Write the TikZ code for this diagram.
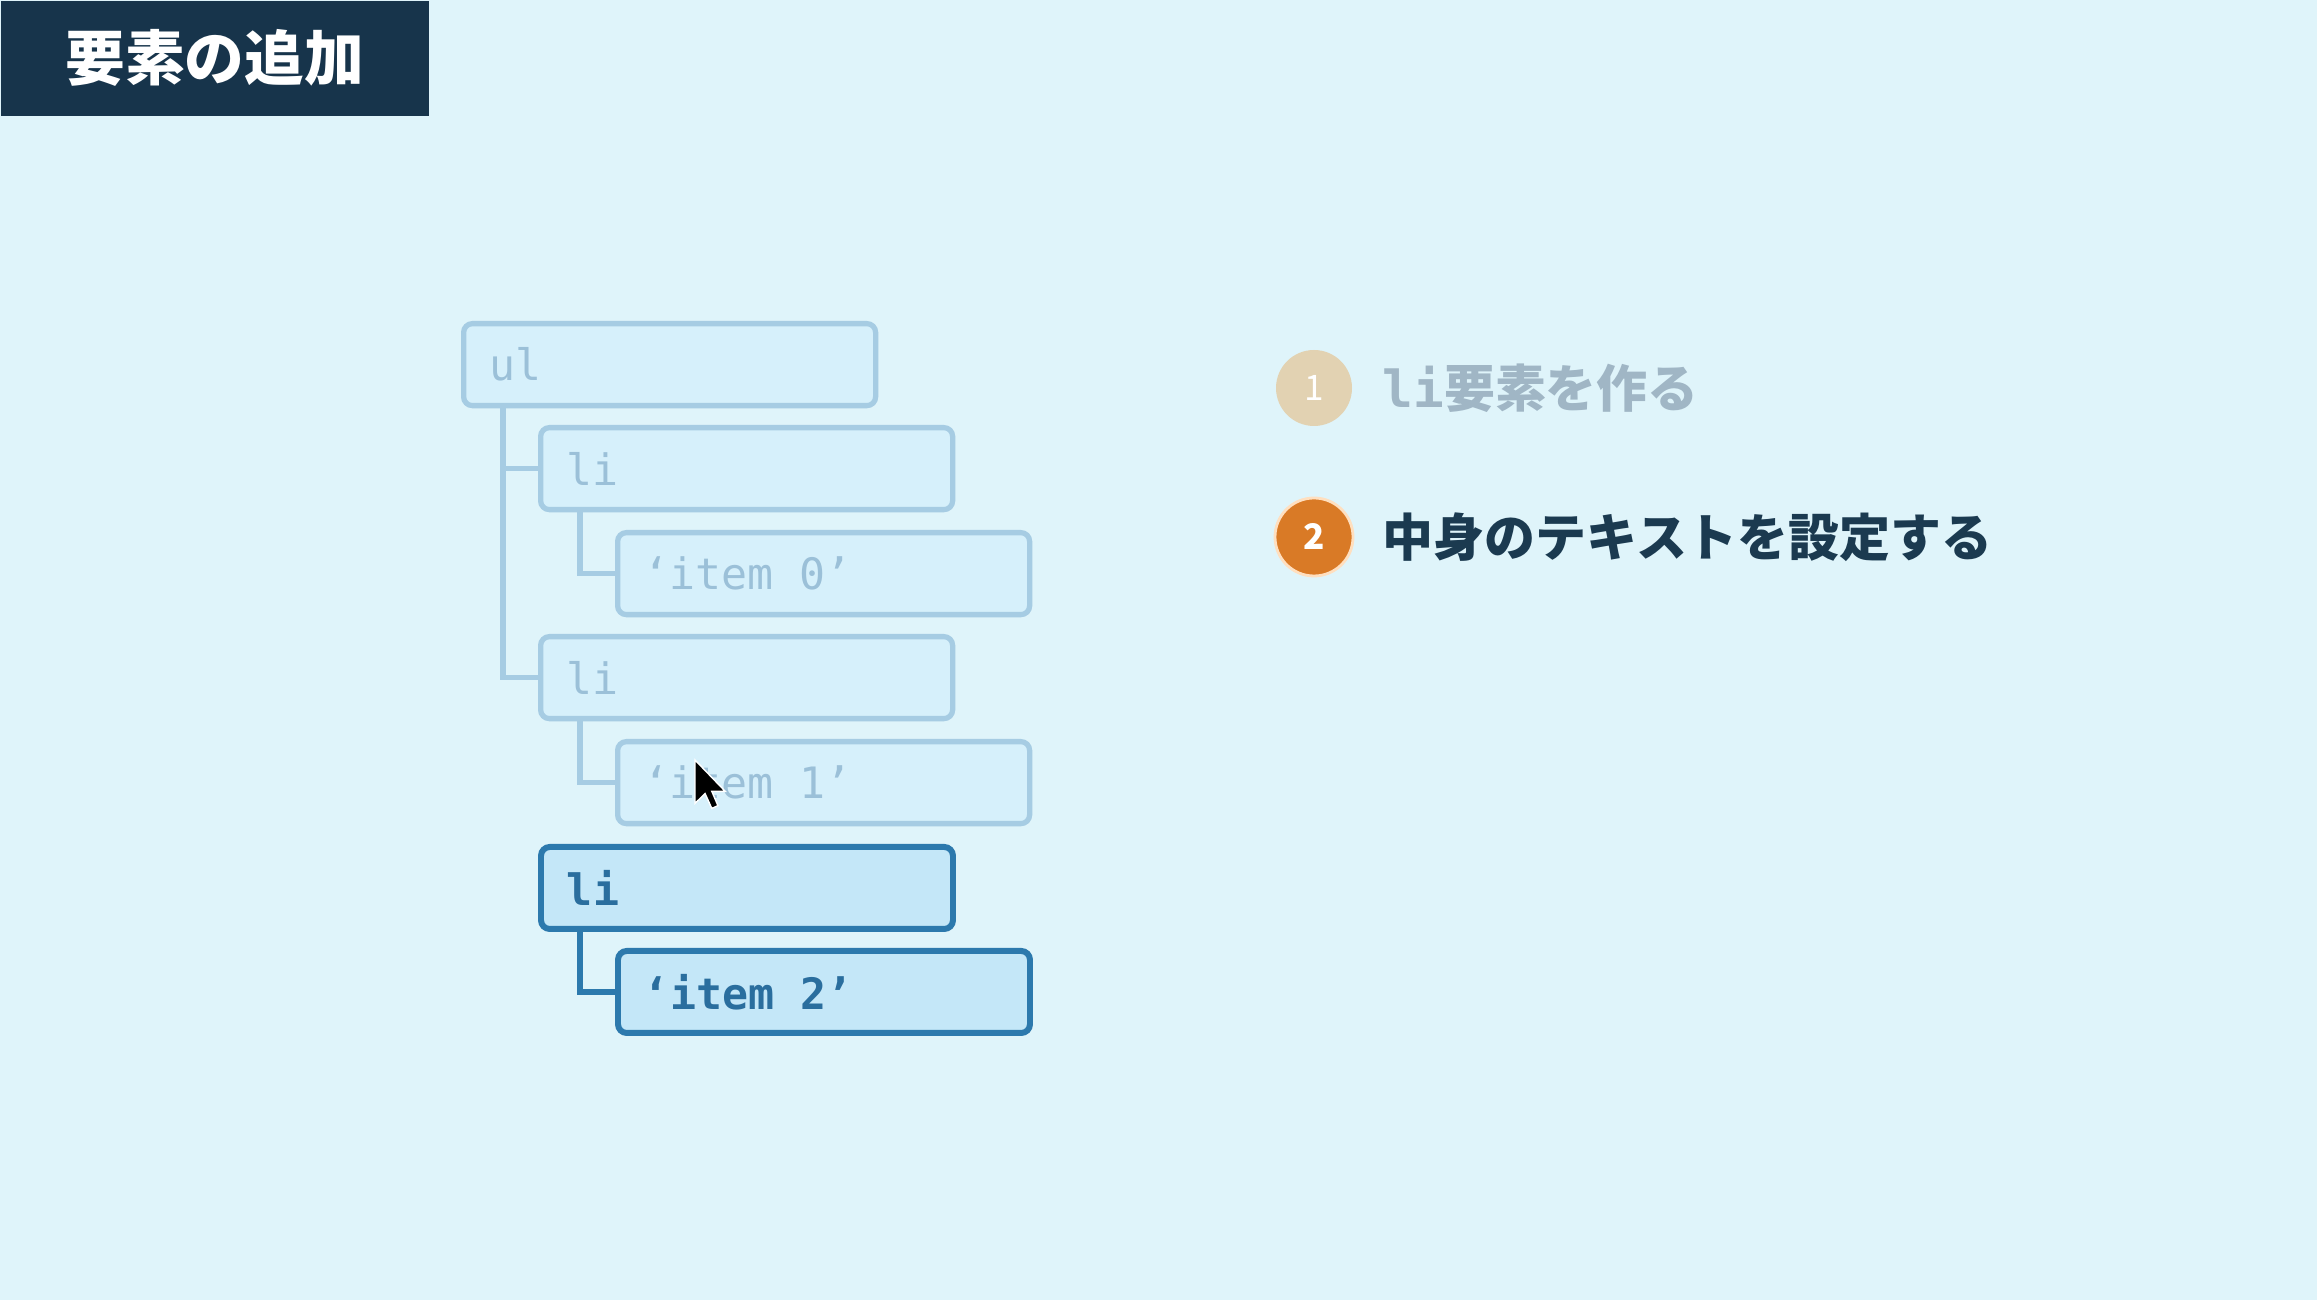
\documentclass[tikz,border=0pt]{standalone}
\usepackage{fontspec}
\setmainfont{Noto Sans CJK JP}
\setmonofont{DejaVu Sans Mono}
\usepackage{tikz}
\usetikzlibrary{calc}
\definecolor{bgcol}{RGB}{223,244,250}
\definecolor{titlebg}{RGB}{23,52,75}
\definecolor{oldfill}{RGB}{214,240,251}
\definecolor{oldline}{RGB}{166,204,227}
\definecolor{oldtext}{RGB}{155,192,216}
\definecolor{newfill}{RGB}{196,231,248}
\definecolor{newline}{RGB}{44,121,173}
\definecolor{newtext}{RGB}{42,110,158}
\definecolor{doneorange}{RGB}{226,210,178}
\definecolor{doneblue}{RGB}{160,182,197}
\definecolor{nowgold}{RGB}{217,122,38}
\definecolor{nowdark}{RGB}{27,58,80}
\tikzset{old box/.style={
  draw=oldline, fill=oldfill, text=oldtext,
  line width=1.5pt, rounded corners=2.5pt,
  anchor=north west, minimum height=0.82cm,
  text width=3.6cm, inner xsep=0.26cm,
  font=\ttfamily\fontsize{12.3}{14}\selectfont
  }
}
\tikzset{new box/.style={
  old box, draw=newline, fill=newfill, text=newtext,
  line width=1.7pt,
  font=\ttfamily\bfseries\fontsize{12.3}{14}\selectfont
  }
}
\tikzset{old line/.style={oldline, line width=1.5pt}}
\tikzset{new line/.style={newline, line width=1.7pt}}
\newcommand{\gap}{\hspace{0.6em}}

\begin{document}
\begin{tikzpicture}
    \useasboundingbox (0,0) rectangle (23.17,-13);
    \fill[bgcol] (0,0) rectangle (23.17,-13);

    \node[fill=titlebg, anchor=north west, inner sep=0, minimum width=4.28cm, minimum height=1.15cm,
          text=white, font=\bfseries\fontsize{17}{20}\selectfont] (T) at (0,0) {要素の追加};

    \foreach \x/\y/\i [count=\n] in {4.61/3.21/ul, 5.38/4.25/li, 6.15/5.30/‘item\gap0’, 5.38/6.34/li, 6.15/7.39/‘item\gap1’}
        \node[old box] (N\n) at (\x,-\y) {\i};

    \node[new box] (N6) at (5.38,-8.44) {li};
    \node[new box] (N7) at (6.15,-9.48) {‘item\gap2’};

    \draw[old line] ([xshift=0.42cm]N1.south west) |- (N2.west);
    \draw[old line] ([xshift=0.42cm]N1.south west) |- (N4.west);
    \draw[old line] ([xshift=0.42cm]N2.south west) |- (N3.west);
    \draw[old line] ([xshift=0.42cm]N4.south west) |- (N5.west);
    \draw[new line] ([xshift=0.42cm]N6.south west) |- (N7.west);

    % mouse pointer
    \begin{scope}[shift={(6.95,-7.60)}, x=0.028cm, y=-0.028cm]
        \filldraw[black, draw=white, line width=0.4pt] (0,0) -- (0,15.5) -- (3.6,12) -- (6,17.3) -- (8.2,16.3) -- (6,11.2) -- (10.8,11.2) -- cycle;
    \end{scope}

    \node[circle, fill=doneorange, minimum size=0.76cm, inner sep=0, text=white,
          font=\fontsize{10}{12}\selectfont] (S1) at (13.14,-3.88) {1};
    \node[anchor=west, inner sep=0, text=doneblue, font=\bfseries\fontsize{14.5}{17}\selectfont] (A) at (13.82,-3.88) {\texttt{li}要素を作る};

    \node[circle, fill=nowgold, draw=orange!25, line width=0.8pt, minimum size=0.78cm, inner sep=0, text=white,
          font=\bfseries\fontsize{10}{12}\selectfont] (S2) at (13.14,-5.37) {2};
    \node[anchor=west, inner sep=0, text=nowdark, font=\bfseries\fontsize{14.5}{17}\selectfont] (B) at (13.82,-5.37) {中身のテキストを設定する};
\end{tikzpicture}
\end{document}
